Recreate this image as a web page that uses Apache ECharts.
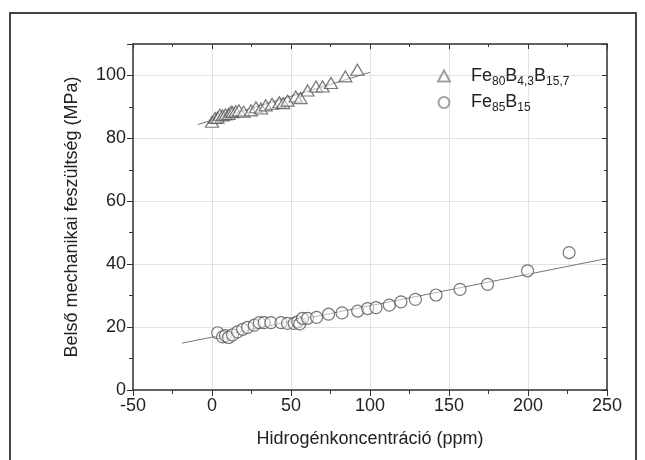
<!DOCTYPE html>
<html>
<head>
<meta charset="utf-8">
<script src="https://cdn.jsdelivr.net/npm/echarts@6/dist/echarts.min.js"></script>
<style>
html, body { margin: 0; padding: 0; background: #fff; }
#main { width: 645px; height: 460px; }
</style>
</head>
<body>
<div id="main"></div>
<script>
// Fe80B4,3B15,7 (háromszögek)
var triX = [0, 2, 3.5, 5, 6.7, 8.5, 10.5, 12, 13, 15, 17, 20, 24.6, 27.8, 31, 34, 38, 42.6, 45, 47.8, 53, 56, 60.5, 65.8, 70, 75.3, 84.4, 92];
var triY = [85.3, 86.5, 86.6, 87.5, 87.3, 87.6, 87.8, 88.5, 88.3, 88.6, 88.9, 88.5, 88.9, 89.9, 89.5, 90.5, 91, 91.5, 91.2, 92, 93.3, 92.8, 95.2, 96.5, 96.5, 97.6, 99.7, 101.8];
// Fe85B15 (körök)
var circX = [3.6, 6.7, 8.5, 10.5, 13, 16.2, 19.4, 22.5, 26.8, 30, 33, 37.3, 43.7, 47.8, 52, 54.2, 55.5, 57.3, 60.5, 66.2, 73.8, 82.3, 92.2, 98.5, 103.8, 112.2, 119.6, 128.7, 141.8, 157, 174.4, 199.7, 226];
var circY = [18.2, 16.9, 17.3, 16.7, 17.5, 18.5, 19.3, 19.9, 20.6, 21.4, 21.4, 21.4, 21.4, 21.2, 21.2, 21.7, 21.0, 22.8, 22.8, 23.1, 24.1, 24.5, 25.1, 25.9, 26.2, 27, 28, 28.8, 30.2, 32, 33.6, 37.9, 43.7];
// illesztett egyenesek végpontjai
var fitTriX = [-9, 100];
var fitTriY = [84.4, 101.0];
var fitCircX = [-19, 250];
var fitCircY = [14.9, 41.8];
var yTicks = [0, 20, 40, 60, 80, 100];

function pairs(xs, ys) {
	var out = [];
	for (var i = 0; i < xs.length; i++) {
		out.push([xs[i], ys[i]]);
	}
	return out;
}

var myChart = echarts.init(document.getElementById('main'));
var font = 'Liberation Sans, Arial, sans-serif';
var rich = {
	b: { fontSize: 18, fontFamily: font, color: '#222' },
	s: { fontSize: 12, fontFamily: font, color: '#222', padding: [11, 0, 0, 0] }
};

var option = {
	animation: false,
	backgroundColor: '#fff',
	textStyle: { fontFamily: font },
	graphic: [{
		type: 'rect',
		shape: { x: 10, y: 13, width: 626, height: 470 },
		style: { fill: 'none', stroke: '#444', lineWidth: 2 },
		silent: true
	}],
	grid: { left: 133, right: 38, top: 44, bottom: 70 },
	legend: {
		left: 432,
		top: 62,
		orient: 'vertical',
		itemGap: 6,
		itemWidth: 12,
		itemHeight: 11,
		data: [
			{ name: 'tri', itemStyle: { borderColor: '#888' } },
			{ name: 'circ', itemStyle: { borderColor: '#888' } }
		],
		formatter: function (name) {
			if (name === 'tri') {
				return '{b|Fe}{s|80}{b|B}{s|4,3}{b|B}{s|15,7}';
			}
			return '{b|Fe}{s|85}{b|B}{s|15}';
		},
		textStyle: { rich: rich, padding: [0, 0, 0, 16] }
	},
	xAxis: [{
		type: 'value',
		min: -50, max: 250, interval: 50,
		name: 'Hidrogénkoncentráció (ppm)',
		nameLocation: 'middle',
		nameGap: 40,
		nameTextStyle: { fontSize: 18, color: '#222', fontFamily: font },
		axisLine: { show: true, onZero: false, lineStyle: { color: '#333', width: 1.5 } },
		axisTick: { show: true, inside: false, length: 6, lineStyle: { color: '#333' } },
		minorTick: { show: true, splitNumber: 2, length: 4, lineStyle: { color: '#333' } },
		axisLabel: { fontSize: 18, color: '#222', margin: 7, fontFamily: font },
		splitLine: { show: true, lineStyle: { color: '#e2e2e2', width: 1 } }
	}, {
		type: 'value',
		position: 'top',
		min: -50, max: 250, interval: 50,
		axisLine: { show: true, onZero: false, lineStyle: { color: '#333', width: 1.5 } },
		axisTick: { show: true, inside: true, length: 5, lineStyle: { color: '#333' } },
		minorTick: { show: true, splitNumber: 2, length: 3, lineStyle: { color: '#333' } },
		axisLabel: { show: false },
		splitLine: { show: false }
	}],
	yAxis: [{
		type: 'value',
		min: 0, max: 110, interval: 20,
		name: 'Belső mechanikai feszültség (MPa)',
		nameLocation: 'middle',
		nameGap: 52,
		nameRotate: 90,
		nameTextStyle: { fontSize: 18, color: '#222', fontFamily: font },
		axisLine: { show: true, onZero: false, lineStyle: { color: '#333', width: 1.5 } },
		axisTick: { show: true, inside: false, length: 6, lineStyle: { color: '#333' } },
		minorTick: { show: true, splitNumber: 2, length: 4, lineStyle: { color: '#333' } },
		axisLabel: {
			fontSize: 18, color: '#222', margin: 7, fontFamily: font,
			formatter: function (v) { return yTicks.indexOf(v) >= 0 ? v : ''; }
		},
		splitLine: { show: true, lineStyle: { color: '#e2e2e2', width: 1 } }
	}, {
		type: 'value',
		position: 'right',
		min: 0, max: 110, interval: 20,
		axisLine: { show: true, onZero: false, lineStyle: { color: '#333', width: 1.5 } },
		axisTick: { show: true, inside: true, length: 5, lineStyle: { color: '#333' } },
		minorTick: { show: true, splitNumber: 2, length: 3, lineStyle: { color: '#333' } },
		axisLabel: { show: false },
		splitLine: { show: false }
	}],
	series: [{
		name: 'fitTri',
		type: 'line',
		data: pairs(fitTriX, fitTriY),
		symbol: 'none',
		lineStyle: { color: '#777', width: 1 },
		z: 1
	}, {
		name: 'fitCirc',
		type: 'line',
		data: pairs(fitCircX, fitCircY),
		symbol: 'none',
		lineStyle: { color: '#777', width: 1 },
		z: 1
	}, {
		name: 'tri',
		type: 'scatter',
		data: pairs(triX, triY),
		symbol: 'triangle',
		symbolSize: [13, 11],
		itemStyle: { color: 'rgba(255,255,255,0.6)', borderColor: '#555', borderWidth: 1.2 },
		z: 3
	}, {
		name: 'circ',
		type: 'scatter',
		data: pairs(circX, circY),
		symbol: 'circle',
		symbolSize: 12,
		itemStyle: { color: 'rgba(255,255,255,0.6)', borderColor: '#555', borderWidth: 1.2 },
		z: 3
	}]
};
myChart.setOption(option);
</script>
</body>
</html>
